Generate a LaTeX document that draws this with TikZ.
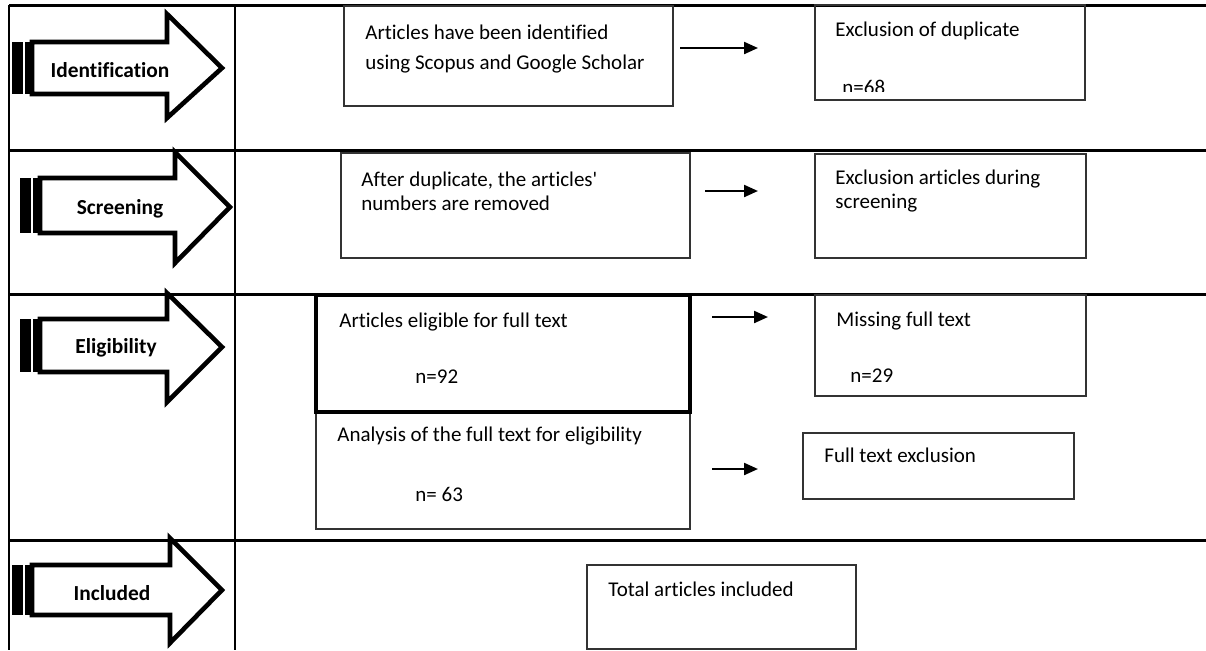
\documentclass[tikz,border=0pt]{standalone}
\usepackage{fontspec}
\setmainfont{Carlito}[Ligatures={NoCommon}]
\usepackage{tikz}
\usetikzlibrary{arrows.meta, fit}

\begin{document}
\begin{tikzpicture}[
    x=0.5pt, y=-0.5pt,
    box/.style={rectangle, draw=black!80, line width=0.7pt, inner sep=0pt},
    thickbox/.style={rectangle, draw, line width=2pt, inner sep=0pt},
    txt/.style={anchor=north west, inner sep=0pt, align=left, font=\fontsize{10.5}{15}\selectfont},
    tighttxt/.style={txt, font=\fontsize{10.5}{11.7}\selectfont},
    stage/.style={inner sep=0pt, font=\fontsize{10.7}{12}\selectfont\bfseries},
    blockarrow/.style={draw, line width=2.3pt, line join=miter, fill=white},
    arrow/.style={-{Triangle[length=7pt, width=6pt]}, line width=1.1pt},
    rowline/.style={line width=1.5pt},
    colline/.style={line width=1.1pt}
]
\useasboundingbox (0,0) rectangle (1206,650);

% table
\draw[rowline] (1206,5) -- (9,5);
\draw[rowline] (9,150) -- (1206,150);
\draw[rowline] (9,294) -- (1206,294);
\draw[rowline] (9,540) -- (1206,540);
\draw[colline] (9,5) -- (9,650);
\draw[colline] (235,5) -- (235,650);

% stage arrows
\draw[blockarrow] (32,42) -- (167,42) -- (167,14) -- (222,68) -- (167,118) -- (167,94) -- (32,94) -- cycle;
\fill (12,42) rectangle (32,94);
\draw[white, line width=0.6pt] (24,42) -- (24,94);
\node[stage] (identification) at (110,70) {Identification};

\draw[blockarrow] (40,178) -- (175,178) -- (175,152) -- (230,207) -- (175,263) -- (175,233) -- (40,233) -- cycle;
\fill (20,178) rectangle (40,233);
\draw[white, line width=0.6pt] (32,178) -- (32,233);
\node[stage] (screening) at (120,209) {Screening};

\draw[blockarrow] (40,319) -- (167,319) -- (167,293) -- (222,347) -- (167,402) -- (167,372) -- (40,372) -- cycle;
\fill (20,319) rectangle (40,372);
\draw[white, line width=0.6pt] (32,319) -- (32,372);
\node[stage] (eligibility) at (116,348) {Eligibility};

\draw[blockarrow] (32,565) -- (170,565) -- (170,538) -- (222,590) -- (170,643) -- (170,615) -- (32,615) -- cycle;
\fill (12,565) rectangle (32,615);
\draw[white, line width=0.6pt] (24,565) -- (24,615);
\node[stage] (included) at (112,593) {Included};

% boxes
\node[box, fit={(344,6) (673,106)}] (identified) {};
\node[box, fit={(815,5) (1085,100)}] (duplicate) {};
\node[box, fit={(341,153) (690,258)}] (removed) {};
\node[box, fit={(815,154) (1086,258)}] (screenout) {};
\node[box, fit={(316,412) (690,529)}] (analysis) {};
\node[thickbox, fit={(316,295) (690,412)}] (eligible) {};
\node[box, fit={(815,295) (1086,396)}] (missing) {};
\node[box, fit={(803,433) (1074,499)}] (fullexcl) {};
\node[box, fit={(587,565) (856,649)}] (total) {};

% box texts
\node[txt] (identifiedtxt) at (365,25) {Articles have been identified\\using Scopus and Google Scholar};
\node[txt] (duplicatetxt) at (835,22) {Exclusion of duplicate};
\begin{scope}
  \clip (815,5) rectangle (1085,91);
  \node[txt] (duplicaten) at (842,80) {n=68};
\end{scope}
\node[tighttxt] (removedtxt) at (361,172) {After duplicate, the articles\textquotesingle\\numbers are removed};
\node[tighttxt] (screenouttxt) at (835,170) {Exclusion articles during\\screening};
\node[txt] (eligibletxt) at (339,313) {Articles eligible for full text};
\node[txt] (eligiblen) at (415,369) {n=92};
\node[txt] (analysistxt) at (337,427) {Analysis of the full text for eligibility};
\node[txt] (analysisn) at (415,487) {n= 63};
\node[txt] (missingtxt) at (836,312) {Missing full text};
\node[txt] (missingn) at (850,368) {n=29};
\node[txt] (fullexcltxt) at (824,448) {Full text exclusion};
\node[txt] (totaltxt) at (608,582) {Total articles included};

% connectors
\coordinate (a1s) at (680,48);  \coordinate (a1e) at (758,48);
\coordinate (a2s) at (705,191); \coordinate (a2e) at (758,191);
\coordinate (a3s) at (712,317); \coordinate (a3e) at (768,317);
\coordinate (a4s) at (712,469); \coordinate (a4e) at (758,469);
\draw[arrow] (a1s) -- (a1e);
\draw[arrow] (a2s) -- (a2e);
\draw[arrow] (a3s) -- (a3e);
\draw[arrow] (a4s) -- (a4e);

\end{tikzpicture}
\end{document}
